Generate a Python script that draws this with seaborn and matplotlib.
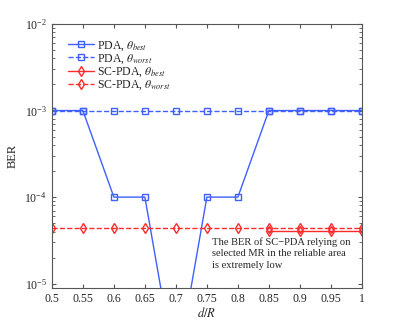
import numpy as np
import pandas as pd
import matplotlib
matplotlib.use("Agg")
import matplotlib.pyplot as plt
import seaborn as sns

d_over_r = [0.5, 0.55, 0.6, 0.65, 0.7, 0.75, 0.8, 0.85, 0.9, 0.95, 1.0]
pda_best = [1e-3, 1e-3, 1e-4, 1e-4, 9e-7, 1e-4, 1e-4, 1e-3, 1e-3, 1e-3, 1e-3]
pda_worst = [1e-3] * 11
scpda_best = [np.nan] * 7 + [4.05e-5, 4.05e-5, 4.05e-5, 4.05e-5]
scpda_worst = [4.35e-5] * 11

labels = [r"PDA, $\theta_{best}$", r"PDA, $\theta_{worst}$",
          r"SC-PDA, $\theta_{best}$", r"SC-PDA, $\theta_{worst}$"]

sns.set_style("ticks")
plt.rcParams["font.family"] = ["Liberation Serif", "DejaVu Serif"]
plt.rcParams["mathtext.fontset"] = "stix"
plt.rcParams["font.size"] = 8.5
plt.rcParams["xtick.direction"] = "in"
plt.rcParams["ytick.direction"] = "in"

blue = "#3f5fff"
red = "#ff2a2a"

fig = plt.figure(figsize=(3.99, 3.24), dpi=100)
ax = fig.add_axes([0.130, 0.111, 0.777, 0.815])
ax.set_yscale("log")

series = [
    (pda_best, labels[0], blue, "-", "s"),
    (pda_worst, labels[1], blue, "--", "s"),
    (scpda_best, labels[2], red, "-", "d"),
    (scpda_worst, labels[3], red, "--", "d"),
]
for vals, lab, col, ls, mk in series:
    df = pd.DataFrame({"x": d_over_r, "y": vals})
    sns.lineplot(data=df, x="x", y="y", ax=ax, color=col, linestyle=ls,
                 marker=mk, markersize=5, markerfacecolor="none",
                 markeredgecolor=col, markeredgewidth=1.0, linewidth=1.0,
                 label=lab)

ax.set_xlim(0.5, 1.0)
ax.set_ylim(8.9e-6, 1e-2)
ax.set_xticks(d_over_r)
ax.set_xticklabels(["0.5", "0.55", "0.6", "0.65", "0.7", "0.75", "0.8",
                    "0.85", "0.9", "0.95", "1"])
ax.tick_params(which="both", top=True, right=True, labelsize=8.5,
               color="#555555")
ax.tick_params(which="major", length=3)
ax.tick_params(which="minor", length=2)
for s in ax.spines.values():
    s.set_color("#555555")
    s.set_linewidth(0.8)

ax.set_xlabel(r"$d/R$", fontsize=9, labelpad=1)
ax.set_ylabel("BER", fontsize=9, labelpad=4)

ax.legend(loc="upper left", bbox_to_anchor=(0.03, 0.97), frameon=False,
          fontsize=8.5, handlelength=2.2, handletextpad=0.2,
          labelspacing=-0.02, borderaxespad=0.2)

ax.text(0.758, 3.45e-5,
        "The BER of SC\u2212PDA relying on\nselected MR in the reliable area\nis extremely low",
        fontsize=7.6, va="top", ha="left", linespacing=1.35)

fig.savefig("out.png", dpi=100)
